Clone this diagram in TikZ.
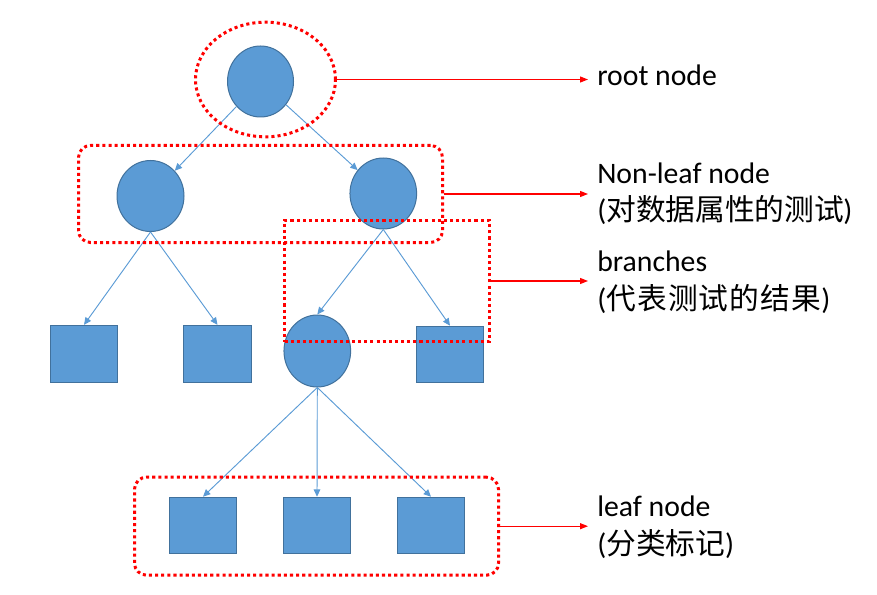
\documentclass[tikz,border=0pt]{standalone}
\usepackage{fontspec}
\setmainfont{Carlito}
\newfontfamily\cjk{Noto Sans CJK SC}[Scale=1.0]
\usetikzlibrary{shapes.geometric,arrows.meta}
\definecolor{shapefill}{HTML}{5B9BD5}
\definecolor{shapeline}{HTML}{41719C}
\definecolor{conn}{HTML}{5B9BD5}
\definecolor{grpred}{HTML}{FF0000}
\tikzset{
  tnode/.style={ellipse,fill=shapefill,draw=shapeline,line width=0.75pt,inner sep=0pt,minimum width=50pt,minimum height=53.25pt},
  leafbox/.style={rectangle,fill=shapefill,draw=shapeline,line width=0.9pt,inner sep=0pt,minimum width=50.5pt,minimum height=42.5pt},
  conn/.style={draw=conn,line width=0.7pt,-{Triangle[length=5.5pt,width=5pt]}},
  grp/.style={draw=grpred,line width=2.25pt,dash pattern=on 2.3pt off 2.3pt,inner sep=0pt,fill=none},
  callout/.style={draw=grpred,line width=0.9pt,-{Triangle[length=6pt,width=4.5pt]}},
  lbl/.style={anchor=base west,inner sep=0pt,font=\fontsize{22.3}{26}\selectfont,text=black}
}
\begin{document}
\begin{tikzpicture}[x=0.75pt,y=-0.75pt]
\useasboundingbox (0,0) rectangle (877,595);
% tree nodes
\node[tnode,minimum width=49.5pt] (root) at (260.5,81.5) {};
\node[tnode,minimum width=50.25pt] (nl) at (150.5,196) {};
\node[tnode] (nr) at (383.3,193.5) {};
\node[tnode,minimum height=54pt] (mid) at (317.3,351) {};
\node[leafbox] (sqa) at (84,353.8) {};
\node[leafbox] (sqb) at (217.5,353.8) {};
\node[leafbox,minimum width=50pt,minimum height=42pt] (sqc) at (450,354.3) {};
\node[leafbox,minimum height=42pt] (lfa) at (203,525.3) {};
\node[leafbox,minimum height=42pt] (lfb) at (317,525.3) {};
\node[leafbox,minimum height=42pt] (lfc) at (431,525.3) {};
% connectors
\draw[conn] (root) -- (nl);
\draw[conn] (root) -- (nr);
\draw[conn] (nl.south) -- (sqa.north);
\draw[conn] (nl.south) -- (sqb.north);
\draw[conn] (nr.south) -- (mid.north);
\draw[conn] (nr.south) -- (sqc.north);
\draw[conn] (mid.south) -- (lfa.north);
\draw[conn] (mid.south) -- (lfb.north);
\draw[conn] (mid.south) -- (lfc.north);
% red dotted groups
\node[grp,ellipse,minimum width=105pt,minimum height=86pt] (rootgrp) at (265.5,79.5) {};
\node[grp,rectangle,rounded corners=9pt,minimum width=273pt,minimum height=72.75pt] (nlgrp) at (260.5,194) {};
\node[grp,rectangle,minimum width=153.5pt,minimum height=90.75pt] (brgrp) at (386.85,281) {};
\node[grp,rectangle,rounded corners=9pt,minimum width=273pt,minimum height=73.5pt] (leafgrp) at (316.5,526.2) {};
% callout arrow ends
\coordinate (rootend) at (588,79.5);
\coordinate (nlend) at (588,194);
\coordinate (brend) at (588,281);
\coordinate (leafend) at (588,526.2);
\draw[callout] (rootgrp.east) -- (rootend);
\draw[callout] (nlgrp.east) -- (nlend);
\draw[callout] (brgrp.east) -- (brend);
\draw[callout] (leafgrp.east) -- (leafend);
% labels
\node[lbl] (rootlbl) at (597,86) {root node};
\node[lbl] (nllbl) at (597,184) {Non-leaf node};
\node[lbl] (nllblb) at (597,221) {(\makebox[177.75pt][l]{\cjk 对\hfill 数\hfill 据\hfill 属\hfill 性\hfill 的\hfill 测\hfill 试})};
\node[lbl] (brlbl) at (597,272) {branches};
\node[lbl] (brlblb) at (597,309) {(\makebox[161.25pt][l]{\cjk 代\hfill 表\hfill 测\hfill 试\hfill 的\hfill 结\hfill 果})};
\node[lbl] (leaflbl) at (597,516) {leaf node};
\node[lbl] (leaflblb) at (597,554) {({\cjk 分类标记})};
\end{tikzpicture}
\end{document}
